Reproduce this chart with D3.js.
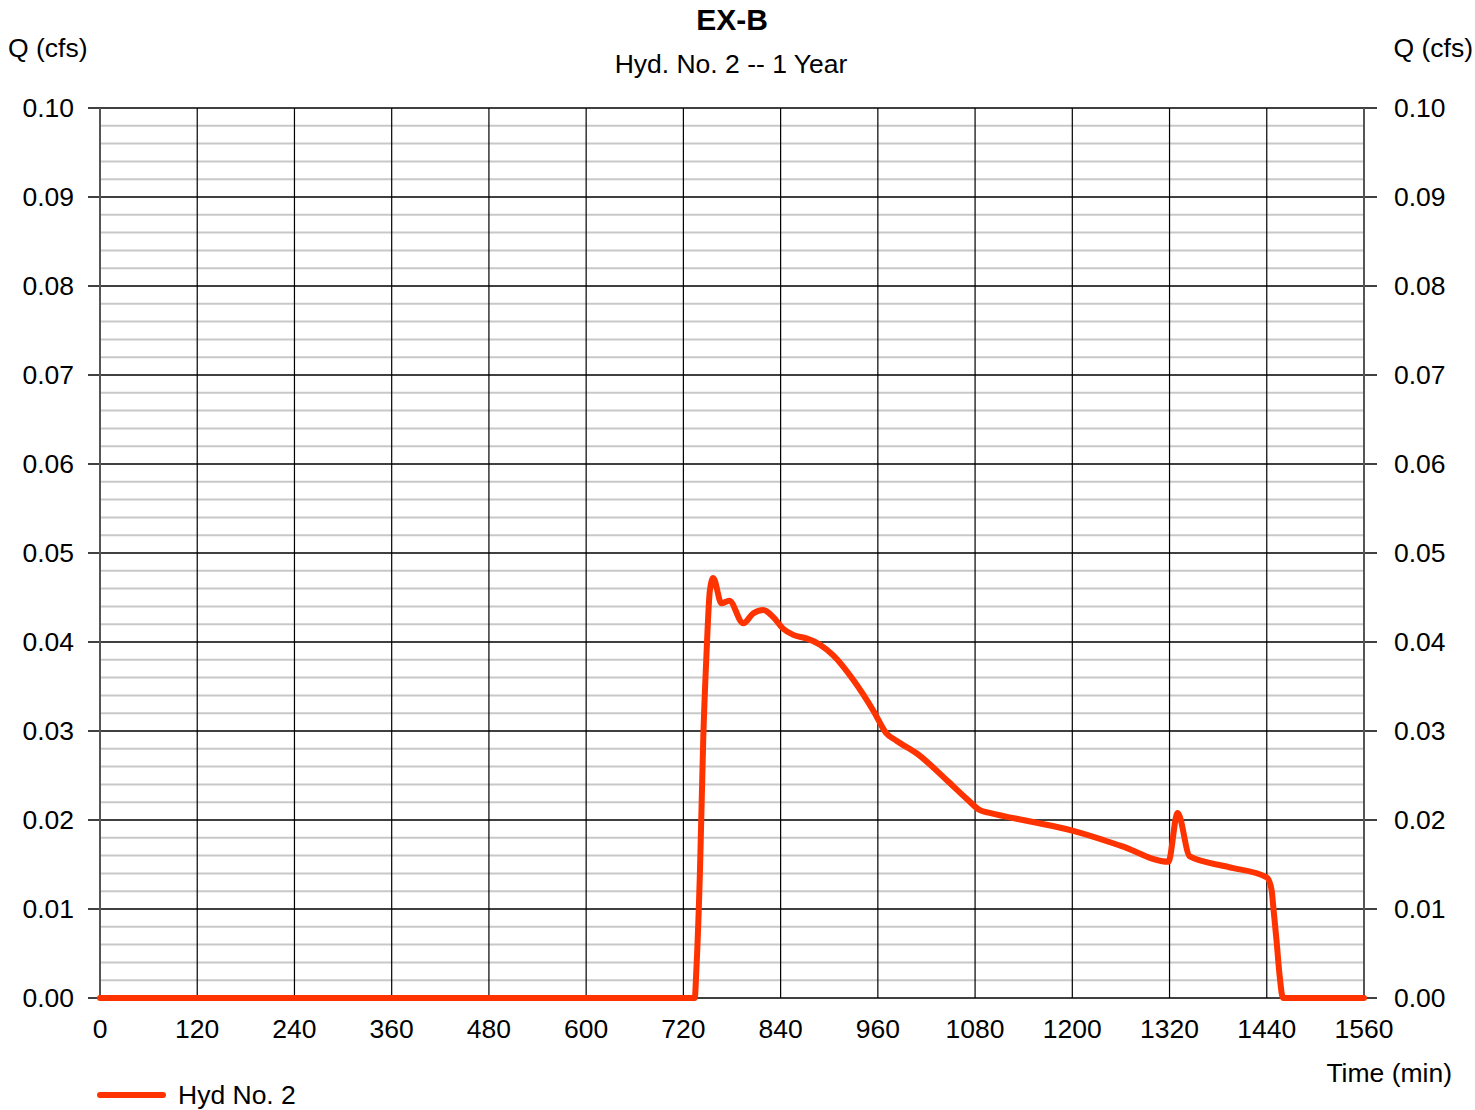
<!DOCTYPE html>
<html>
<head>
<meta charset="utf-8">
<script src="https://cdn.jsdelivr.net/npm/d3@7"></script>
<style>
  body { margin: 0; background: #fff; }
  text { font-family: "Liberation Sans", Arial, sans-serif; fill: #000; }
</style>
</head>
<body>
<div id="chart"></div>
<script>
// Hydrograph values
const times = [0, 720, 734, 736, 740.5, 744.6, 748.6, 752.7, 756.8, 767, 776.6, 793.9, 806, 818.6, 831, 843, 855.6, 872, 888.6, 905, 930, 955, 970, 983, 1007.8, 1044.8, 1069.5, 1086, 1098, 1150, 1200, 1260, 1318.5, 1330, 1345, 1392, 1440, 1446, 1448, 1452, 1456, 1460, 1500, 1560];
const flows = [0, 0, 0, 0.0031, 0.0144, 0.0294, 0.0388, 0.0458, 0.0472, 0.04435, 0.04464, 0.0421, 0.0432, 0.0436, 0.0428, 0.0415, 0.0408, 0.0404, 0.0397, 0.0385, 0.0357, 0.0322, 0.0298, 0.0289, 0.0275, 0.0245, 0.0224, 0.0211, 0.0208, 0.0198, 0.0188, 0.0171, 0.0153, 0.0208, 0.0159, 0.01473, 0.01356, 0.0121, 0.0103, 0.0065, 0.0024, 0, 0, 0];
const xTicks = [0, 120, 240, 360, 480, 600, 720, 840, 960, 1080, 1200, 1320, 1440, 1560];
const yTicks = [0, 0.01, 0.02, 0.03, 0.04, 0.05, 0.06, 0.07, 0.08, 0.09, 0.10];
const yMinor = d3.range(0, 0.1001, 0.002).filter(v => Math.round(v * 1000) % 10 !== 0);

const width = 1475, height = 1110;
const plotL = 100, plotR = 1364, plotT = 108, plotB = 998;
const lineColor = "#ff3300";
const fs = "26.5px";

const svg = d3.select("#chart").append("svg")
    .attr("width", width)
    .attr("height", height);

const x = d3.scaleLinear().domain([0, 1560]).range([plotL, plotR]);
const y = d3.scaleLinear().domain([0, 0.1]).range([plotB, plotT]);

// minor horizontal grid
svg.append("g").selectAll("line")
    .data(yMinor)
    .join("line")
    .attr("x1", plotL).attr("x2", plotR)
    .attr("y1", d => y(d)).attr("y2", d => y(d))
    .attr("stroke", "#c8c8c8")
    .attr("stroke-width", 2);

// vertical grid
svg.append("g").selectAll("line")
    .data(xTicks.slice(1, -1))
    .join("line")
    .attr("x1", d => x(d)).attr("x2", d => x(d))
    .attr("y1", plotT).attr("y2", plotB)
    .attr("stroke", "#000")
    .attr("stroke-width", 1.2);

// major horizontal grid, with ticks out both sides
svg.append("g").selectAll("line")
    .data(yTicks)
    .join("line")
    .attr("x1", plotL - 12).attr("x2", plotR + 13)
    .attr("y1", d => y(d)).attr("y2", d => y(d))
    .attr("stroke", "#000")
    .attr("stroke-width", 1.3);

// side borders
svg.append("g").selectAll("line")
    .data([0, 1560])
    .join("line")
    .attr("x1", d => x(d)).attr("x2", d => x(d))
    .attr("y1", plotT).attr("y2", plotB)
    .attr("stroke", "#555")
    .attr("stroke-width", 2);

// tick labels
svg.append("g").selectAll("text")
    .data(yTicks)
    .join("text")
    .attr("x", 74).attr("y", d => y(d) + 9)
    .attr("text-anchor", "end")
    .style("font-size", fs)
    .text(d => d3.format(".2f")(d));

svg.append("g").selectAll("text")
    .data(yTicks)
    .join("text")
    .attr("x", 1394).attr("y", d => y(d) + 9)
    .style("font-size", fs)
    .text(d => d3.format(".2f")(d));

svg.append("g").selectAll("text")
    .data(xTicks)
    .join("text")
    .attr("x", d => x(d)).attr("y", 1038)
    .attr("text-anchor", "middle")
    .style("font-size", fs)
    .text(d => d);

// hydrograph line
const line = d3.line()
    .x((d, i) => x(times[i]))
    .y(d => y(d))
    .curve(d3.curveMonotoneX);

svg.append("path")
    .datum(flows)
    .attr("d", line)
    .attr("fill", "none")
    .attr("stroke", lineColor)
    .attr("stroke-width", 6)
    .attr("stroke-linejoin", "round")
    .attr("stroke-linecap", "round");

// titles and axis names
svg.append("text").attr("x", 732).attr("y", 30)
    .attr("text-anchor", "middle")
    .style("font-size", "30px").style("font-weight", "bold")
    .text("EX-B");
svg.append("text").attr("x", 731).attr("y", 73)
    .attr("text-anchor", "middle")
    .style("font-size", fs)
    .text("Hyd. No. 2 -- 1 Year");
svg.append("text").attr("x", 8).attr("y", 57)
    .style("font-size", fs)
    .text("Q (cfs)");
svg.append("text").attr("x", 1473).attr("y", 57)
    .attr("text-anchor", "end")
    .style("font-size", fs)
    .text("Q (cfs)");
svg.append("text").attr("x", 1452).attr("y", 1082)
    .attr("text-anchor", "end")
    .style("font-size", fs)
    .text("Time (min)");

// legend
svg.append("line")
    .attr("x1", 100).attr("x2", 163)
    .attr("y1", 1095).attr("y2", 1095)
    .attr("stroke", lineColor)
    .attr("stroke-width", 6)
    .attr("stroke-linecap", "round");
svg.append("text").attr("x", 178).attr("y", 1104)
    .style("font-size", fs)
    .text("Hyd No. 2");
</script>
</body>
</html>
